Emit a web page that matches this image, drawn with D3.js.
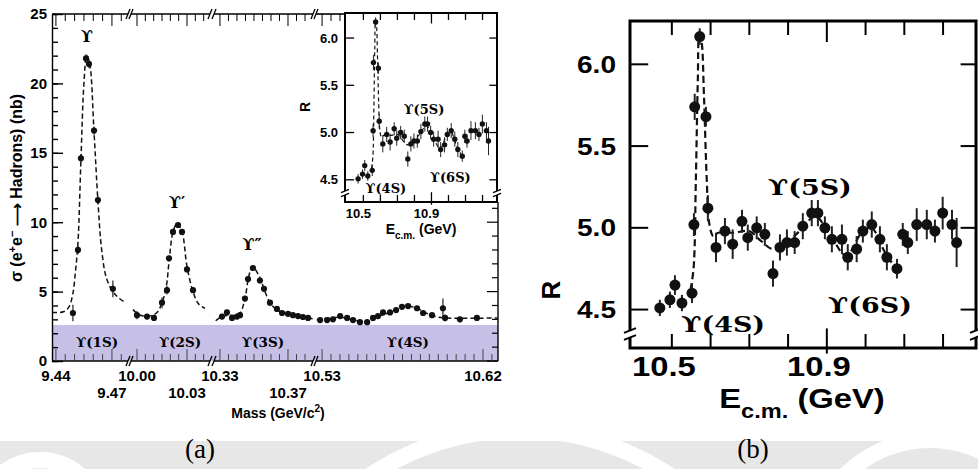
<!DOCTYPE html>
<html>
<head>
<meta charset="utf-8">
<script src="https://cdn.jsdelivr.net/npm/d3@7"></script>
<style>
  body { margin: 0; background: #fff; }
  svg { display: block; }
  text { font-family: "Liberation Sans", Arial, sans-serif; }
</style>
</head>
<body>
<svg id="chart" width="978" height="469"></svg>
<script>
// ---------- data ----------
// panel (a): broken mass axis, four windows (GeV)
const massSegments = [[9.4379, 9.4786], [9.9964, 10.0438], [10.3265, 10.3847], [10.5266, 10.6284]];
const massTopLabels = [9.44, 10.00, 10.33, 10.53, 10.62];
const massLowLabels = [9.47, 10.03, 10.37];
const sigmaTicks = [0, 5, 10, 15, 20, 25];

const upsMass = [
  9.4491, 9.4518, 9.4534, 9.4561, 9.4577, 9.4604, 9.4625, 9.4705,
  10.0000, 10.0060, 10.0102, 10.0150, 10.0180, 10.0192, 10.0216, 10.0246, 10.0270, 10.0300, 10.0336,
  10.3312, 10.3341, 10.3371, 10.3400, 10.3418, 10.3447, 10.3465, 10.3494, 10.3535, 10.3559, 10.3594,
  10.3635, 10.3665, 10.3700, 10.3729, 10.3759, 10.3788, 10.3818,
  10.5289, 10.5328, 10.5361, 10.5401, 10.5440, 10.5473, 10.5512, 10.5552, 10.5585, 10.5613, 10.5641,
  10.5680, 10.5714, 10.5747, 10.5781, 10.5831, 10.5865, 10.5915, 10.5976, 10.5988, 10.6071, 10.6166
];
const upsSigma = [
  3.46, 8.0, 14.6, 21.8, 21.4, 16.6, 11.6, 5.2,
  3.3, 3.2, 3.1, 4.2, 5.1, 7.4, 9.3, 9.8, 9.3, 6.6, 5.1,
  3.2, 3.5, 3.1, 3.2, 3.3, 4.5, 5.9, 6.7, 5.8, 5.2, 4.2,
  3.75, 3.46, 3.4, 3.3, 3.24, 3.17, 3.1,
  2.95, 2.95, 3.0, 3.24, 3.1, 2.95, 2.8, 2.8, 3.1, 3.24, 3.5,
  3.5, 3.67, 3.9, 3.96, 3.8, 3.46, 3.3, 3.8, 3.1, 3.0, 3.1
];
const upsErr = [
  0.6, 0.3, 0.3, 0.3, 0.3, 0.3, 0.3, 0.6,
  0.3, 0.2, 0.2, 0.4, 0.3, 0.2, 0.2, 0.2, 0.2, 0.2, 0.2,
  0.2, 0.2, 0.2, 0.2, 0.2, 0.2, 0.2, 0.2, 0.2, 0.2, 0.2,
  0.2, 0.2, 0.2, 0.2, 0.2, 0.2, 0.2,
  0.15, 0.15, 0.15, 0.15, 0.15, 0.15, 0.15, 0.15, 0.15, 0.15, 0.15,
  0.15, 0.15, 0.15, 0.15, 0.15, 0.15, 0.15, 0.7, 0.25, 0.2, 0.2
];
// dashed fit curve of panel (a)
const fitMass = [
  9.4379, 9.444, 9.447, 9.449, 9.4505, 9.4518, 9.4534, 9.455, 9.4565, 9.458, 9.4604, 9.4625, 9.4645, 9.467, 9.4705, 9.474, 9.4775,
  9.9975, 10.002, 10.008, 10.012, 10.015, 10.0175, 10.0195, 10.0216, 10.024, 10.027, 10.030, 10.0336, 10.037, 10.0408,
  10.3275, 10.331, 10.336, 10.341, 10.3447, 10.3465, 10.349, 10.3535, 10.3559, 10.3594, 10.3635, 10.370, 10.3818, 10.3845,
  10.527, 10.540, 10.548, 10.556, 10.5613, 10.568, 10.5747, 10.5781, 10.5831, 10.5875, 10.5935, 10.600, 10.628
];
const fitSigma = [
  3.5, 3.55, 3.9, 4.8, 6.5, 8.5, 14.5, 20.0, 22.0, 21.5, 16.5, 11.5, 8.0, 6.0, 5.0, 4.5, 4.2,
  3.7, 3.3, 3.25, 3.5, 4.2, 5.3, 7.5, 9.3, 9.9, 9.3, 6.8, 5.0, 4.1, 3.8,
  2.9, 3.2, 3.3, 3.3, 4.5, 5.8, 6.8, 6.0, 5.2, 4.2, 3.7, 3.35, 3.1, 3.05,
  2.95, 3.15, 2.95, 2.8, 3.2, 3.5, 3.85, 3.95, 3.8, 3.5, 3.2, 3.1, 3.1
];
const bandTop = 2.6;
const peakNames = ["ϒ", "ϒ′", "ϒ″"];
const peakMass = [9.4566, 10.0240, 10.3488];
const peakLabelSigma = [23.0, 11.0, 8.0];
const bandNames = ["ϒ(1S)", "ϒ(2S)", "ϒ(3S)", "ϒ(4S)"];
const bandMass = [9.4620, 10.0258, 10.3553, 10.5780];

// panel (b) and the inset: R versus E_cm (GeV)
const eDomain = [10.392, 11.285];
const rDomain = [4.265, 6.265];
const eTicks = [10.5, 10.6, 10.7, 10.8, 10.9, 11.0, 11.1, 11.2];
const eLabels = [10.5, 10.9];
const rTicks = [4.5, 5.0, 5.5, 6.0];
const eCm = [
  10.469, 10.495, 10.508, 10.526, 10.552, 10.557, 10.559, 10.572, 10.588, 10.593,
  10.614, 10.637, 10.657, 10.681, 10.696, 10.719, 10.740, 10.761, 10.779, 10.797,
  10.817, 10.838, 10.861, 10.877, 10.895, 10.913, 10.939, 10.954, 10.977, 10.993,
  11.016, 11.037, 11.055, 11.081, 11.096, 11.109, 11.132, 11.158, 11.179, 11.199,
  11.223, 11.235
];
const rVal = [
  4.51, 4.56, 4.65, 4.54, 4.60, 5.02, 5.74, 6.17, 5.68, 5.12,
  4.88, 4.98, 4.90, 5.04, 4.94, 5.00, 4.96, 4.72, 4.88, 4.91,
  4.91, 5.01, 5.09, 5.09, 5.00, 4.93, 4.93, 4.82, 4.87, 4.98,
  5.02, 4.93, 4.82, 4.75, 4.96, 4.91, 5.02, 5.02, 4.98, 5.09,
  5.02, 4.91
];
const rErr = [
  0.05, 0.05, 0.06, 0.05, 0.06, 0.07, 0.08, 0.05, 0.06, 0.08,
  0.09, 0.08, 0.09, 0.07, 0.08, 0.07, 0.07, 0.08, 0.08, 0.08,
  0.07, 0.08, 0.08, 0.08, 0.07, 0.08, 0.09, 0.08, 0.08, 0.07,
  0.08, 0.08, 0.08, 0.06, 0.07, 0.07, 0.10, 0.09, 0.07, 0.10,
  0.09, 0.15
];
const fitE = [10.548, 10.556, 10.562, 10.567, 10.571, 10.576, 10.583, 10.590, 10.597, 10.607, 10.620, 10.660,
  10.700, 10.730, 10.760, 10.790, 10.830, 10.870, 10.910, 10.950, 10.990, 11.015, 11.050, 11.085];
const fitR = [4.62, 4.75, 5.30, 5.90, 6.18, 6.15, 5.80, 5.30, 5.02, 4.95, 4.97, 4.97,
  4.98, 4.92, 4.87, 4.90, 4.98, 5.07, 4.95, 4.83, 4.97, 5.00, 4.85, 4.73];
const rLabels = ["ϒ(4S)", "ϒ(5S)", "ϒ(6S)"];
const rLabelE = [10.632, 10.856, 11.011];
const rLabelR = [4.36, 5.20, 4.48];

// ---------- drawing ----------
const svg = d3.select("#chart");
svg.append("rect").attr("width", 978).attr("height", 469).attr("fill", "#fff");

// faint watermark band at the bottom of the page
const wm = svg.append("g");
wm.append("rect").attr("x", 0).attr("y", 441).attr("width", 978).attr("height", 28).attr("fill", "#e7e7e7");
[[40, 520, 60], [520, 700, 270], [930, 560, 120]].forEach(c => {
  wm.append("circle").attr("cx", c[0]).attr("cy", c[1]).attr("r", c[2])
    .attr("fill", "none").attr("stroke", "#fff").attr("stroke-width", 16);
});

const serif = '"DejaVu Serif", "Liberation Serif", serif';

// ===== panel (a) =====
const aTop = 14, aBot = 361, aLeft = 52, aRight = 498;
const segRanges = [[52, 128], [131, 210], [214, 313], [316, 498]];
const xSegs = massSegments.map((d, i) => d3.scaleLinear().domain(d).range(segRanges[i]));
const segOf = m => massSegments.findIndex(d => m >= d[0] - 1e-9 && m <= d[1] + 1e-9);
const xMass = m => xSegs[segOf(m)](m);
const ySig = d3.scaleLinear().domain([0, 25]).range([aBot, aTop]);

const ga = svg.append("g");

// shaded band
ga.append("rect")
  .attr("x", aLeft).attr("y", ySig(bandTop))
  .attr("width", aRight - aLeft).attr("height", ySig(0) - ySig(bandTop))
  .attr("fill", "#c6bfe6");

// left axis: minor + major ticks
ga.append("g").attr("transform", `translate(${aLeft},0)`)
  .call(d3.axisLeft(ySig).tickValues(d3.range(0, 26)).tickSize(-6).tickSizeOuter(0).tickFormat(""))
  .call(g => g.selectAll("line,path").attr("stroke", "#000").attr("stroke-width", 1.4));
ga.append("g").attr("transform", `translate(${aLeft},0)`)
  .call(d3.axisLeft(ySig).tickValues(sigmaTicks).tickSize(-11).tickSizeOuter(0).tickPadding(5))
  .call(g => g.select(".domain").remove())
  .call(g => g.selectAll("line").attr("stroke", "#000").attr("stroke-width", 1.4))
  .call(g => g.selectAll("text").attr("font-size", 15).attr("font-weight", "bold").attr("fill", "#000"));

// right axis below the inset
const rightTicks = d3.range(0, 12);
ga.append("line").attr("x1", aRight).attr("x2", aRight).attr("y1", 202).attr("y2", aBot)
  .attr("stroke", "#000").attr("stroke-width", 1.4);
ga.selectAll(".rt").data(rightTicks).join("line")
  .attr("x1", aRight).attr("x2", d => aRight - (d % 5 === 0 ? 11 : 6))
  .attr("y1", d => ySig(d)).attr("y2", d => ySig(d))
  .attr("stroke", "#000").attr("stroke-width", 1.2);

// broken top / bottom axes
const labelled = massTopLabels.concat(massLowLabels);
massSegments.forEach((dom, i) => {
  const xs = xSegs[i];
  const [r0, r1] = segRanges[i];
  const span = dom[1] - dom[0];
  const ticks = xs.ticks(Math.round(span / 0.005));
  const isLong = t => labelled.some(l => Math.abs(l - t) < 1e-6);
  // bottom
  ga.append("line").attr("x1", r0).attr("x2", r1).attr("y1", aBot).attr("y2", aBot)
    .attr("stroke", "#000").attr("stroke-width", 1.6);
  ga.selectAll(null).data(ticks).join("line")
    .attr("x1", d => xs(d)).attr("x2", d => xs(d))
    .attr("y1", aBot).attr("y2", d => aBot - (isLong(d) ? 12 : 7))
    .attr("stroke", "#444").attr("stroke-width", 1);
  // top (hidden under the inset on the right)
  const topEnd = Math.min(r1, 345);
  ga.append("line").attr("x1", r0).attr("x2", topEnd).attr("y1", aTop).attr("y2", aTop)
    .attr("stroke", "#000").attr("stroke-width", 1.6);
  ga.selectAll(null).data(ticks.filter(t => xs(t) < 343)).join("line")
    .attr("x1", d => xs(d)).attr("x2", d => xs(d))
    .attr("y1", aTop).attr("y2", d => aTop + (isLong(d) ? 12 : 7))
    .attr("stroke", "#000").attr("stroke-width", 1);
  // break marks
  if (i < massSegments.length - 1) {
    const xa = r1, xb = segRanges[i + 1][0];
    [aTop, aBot].forEach(yy => {
      [xa, xb].forEach(xx => {
        ga.append("line").attr("x1", xx - 2).attr("y1", yy + 5).attr("x2", xx + 2).attr("y2", yy - 5)
          .attr("stroke", "#000").attr("stroke-width", 1.3);
      });
    });
  }
});

// x tick labels
ga.selectAll(".xl1").data(massTopLabels).join("text")
  .attr("x", d => xMass(d)).attr("y", 381).attr("text-anchor", "middle")
  .attr("font-size", 15).attr("font-weight", "bold").text(d => d.toFixed(2));
ga.selectAll(".xl2").data(massLowLabels).join("text")
  .attr("x", d => xMass(d)).attr("y", 398).attr("text-anchor", "middle")
  .attr("font-size", 15).attr("font-weight", "bold").text(d => d.toFixed(2));

// axis titles
const mt = ga.append("text").attr("x", 278).attr("y", 418).attr("text-anchor", "middle")
  .attr("font-size", 14).attr("font-weight", "bold");
mt.append("tspan").text("Mass (GeV/c");
mt.append("tspan").attr("font-size", 10).attr("dy", -6).text("2");
mt.append("tspan").attr("dy", 6).text(")");

const yt = ga.append("text").attr("transform", "translate(22,188) rotate(-90)")
  .attr("text-anchor", "middle").attr("font-size", 16).attr("font-weight", "bold");
yt.append("tspan").text("σ (e");
yt.append("tspan").attr("font-size", 11).attr("dy", -6).text("+");
yt.append("tspan").attr("dy", 6).text("e");
yt.append("tspan").attr("font-size", 11).attr("dy", -6).text("−");
yt.append("tspan").attr("dy", 6).text(" ⟶ Hadrons) (nb)");

// dashed fit per window
const fitPts = fitMass.map((m, i) => [m, fitSigma[i]]);
massSegments.forEach((dom, i) => {
  const pts = fitPts.filter(p => segOf(p[0]) === i);
  ga.append("path")
    .attr("d", d3.line().x(p => xMass(p[0])).y(p => ySig(p[1])).curve(d3.curveCatmullRom)(pts))
    .attr("fill", "none").attr("stroke", "#111").attr("stroke-width", 1.5)
    .attr("stroke-dasharray", "5,3");
});

// data points
const aPts = upsMass.map((m, i) => ({ m: m, s: upsSigma[i], e: upsErr[i] }));
ga.selectAll(".ae").data(aPts).join("line")
  .attr("x1", d => xMass(d.m)).attr("x2", d => xMass(d.m))
  .attr("y1", d => ySig(d.s - d.e)).attr("y2", d => ySig(d.s + d.e))
  .attr("stroke", "#222").attr("stroke-width", 1.2);
ga.selectAll(".ap").data(aPts).join("circle")
  .attr("cx", d => xMass(d.m)).attr("cy", d => ySig(d.s)).attr("r", 3.1).attr("fill", "#111");

// peak and band labels
ga.selectAll(".pk").data(peakNames).join("text")
  .attr("x", (d, i) => xMass(peakMass[i])).attr("y", (d, i) => ySig(peakLabelSigma[i]))
  .attr("text-anchor", "middle").style("font-family", serif).attr("font-weight", "bold")
  .attr("font-size", 16).text(d => d);
ga.selectAll(".bn").data(bandNames).join("text")
  .attr("x", (d, i) => xMass(bandMass[i])).attr("y", 347)
  .attr("text-anchor", "middle").style("font-family", serif).attr("font-weight", "bold")
  .attr("font-size", 13.5).text(d => d);

// ===== R panels (inset of (a) and panel (b)) =====
function drawRPanel(p) {
  const x = d3.scaleLinear().domain(eDomain).range([p.x0, p.x1]);
  const y = d3.scaleLinear().domain(rDomain).range([p.y1, p.y0]);
  const g = svg.append("g");
  const txt = (xx, yy) => g.append("text").attr("transform", `translate(${xx},${yy}) scale(${p.sx},1)`);

  g.append("rect").attr("x", p.x0).attr("y", p.y0).attr("width", p.x1 - p.x0).attr("height", p.y1 - p.y0)
    .attr("fill", "#fff").attr("stroke", "#000").attr("stroke-width", p.lw);

  // ticks
  const longE = t => Math.abs(t - 10.9) < 1e-6;
  g.selectAll(null).data(eTicks).join("line")
    .attr("x1", d => x(d)).attr("x2", d => x(d))
    .attr("y1", d => p.y1 + (longE(d) ? p.tl * 0.4 : 0)).attr("y2", d => p.y1 - (longE(d) ? p.tl * 1.4 : p.tl))
    .attr("stroke", "#000").attr("stroke-width", p.tw);
  g.selectAll(null).data(eTicks).join("line")
    .attr("x1", d => x(d)).attr("x2", d => x(d))
    .attr("y1", p.y0).attr("y2", d => p.y0 + (longE(d) ? p.tl * 1.5 : p.tl))
    .attr("stroke", "#000").attr("stroke-width", p.tw);
  g.selectAll(null).data(rTicks).join("line")
    .attr("x1", p.x0).attr("x2", p.x0 + p.tl * 1.3)
    .attr("y1", d => y(d)).attr("y2", d => y(d))
    .attr("stroke", "#000").attr("stroke-width", p.tw);
  g.selectAll(null).data(rTicks).join("line")
    .attr("x1", p.x1).attr("x2", p.x1 - p.tl * 1.1)
    .attr("y1", d => y(d)).attr("y2", d => y(d))
    .attr("stroke", "#000").attr("stroke-width", p.tw);

  // axis breaks near the bottom of both vertical axes
  [p.x0, p.x1].forEach(xx => {
    const yb = p.y1 - p.brk;
    g.append("rect").attr("x", xx - p.lw).attr("y", yb - p.bg / 2).attr("width", p.lw * 2).attr("height", p.bg)
      .attr("fill", "#fff");
    [-p.bg / 2, p.bg / 2].forEach(o => {
      g.append("line").attr("x1", xx - p.bw).attr("y1", yb + o + p.bw * 0.4)
        .attr("x2", xx + p.bw).attr("y2", yb + o - p.bw * 0.4)
        .attr("stroke", "#000").attr("stroke-width", p.tw);
    });
  });

  // tick labels
  rTicks.forEach(t => {
    txt(p.x0 - p.ylPad, y(t) + p.fsY * 0.36).attr("text-anchor", "end")
      .attr("font-size", p.fsY).attr("font-weight", "bold").text(t.toFixed(1));
  });
  eLabels.forEach(t => {
    txt(x(t) + p.xlDx, p.y1 + p.xlDy).attr("text-anchor", "middle")
      .attr("font-size", p.fsX).attr("font-weight", "bold").text(t.toFixed(1));
  });

  // titles
  const et = txt(p.etX, p.etY).attr("text-anchor", "middle").attr("font-size", p.fsT).attr("font-weight", "bold");
  et.append("tspan").text("E");
  et.append("tspan").attr("font-size", p.fsT * 0.72).attr("dy", p.fsT * 0.35).text("c.m.");
  et.append("tspan").attr("dy", -p.fsT * 0.35).text(" (GeV)");
  g.append("text").attr("transform", `translate(${p.rX},${p.rY}) rotate(-90)`)
    .attr("text-anchor", "middle").attr("font-size", p.fsR).attr("font-weight", "bold").text("R");

  // dashed fit
  g.append("path")
    .attr("d", d3.line().x((d, i) => x(fitE[i])).y(d => y(d)).curve(d3.curveCatmullRom)(fitR))
    .attr("fill", "none").attr("stroke", "#111").attr("stroke-width", p.fw)
    .attr("stroke-dasharray", p.dash);

  // points with error bars
  const pts = eCm.map((e, i) => ({ e: e, r: rVal[i], s: rErr[i] }));
  g.selectAll(null).data(pts).join("line")
    .attr("x1", d => x(d.e)).attr("x2", d => x(d.e))
    .attr("y1", d => y(d.r - d.s)).attr("y2", d => y(d.r + d.s))
    .attr("stroke", "#222").attr("stroke-width", p.ew);
  g.selectAll(null).data(pts).join("circle")
    .attr("cx", d => x(d.e)).attr("cy", d => y(d.r)).attr("r", p.r).attr("fill", "#111");

  // resonance labels
  rLabels.forEach((s, i) => {
    txt(x(rLabelE[i]), y(rLabelR[i])).attr("text-anchor", "middle")
      .style("font-family", serif).attr("font-weight", "bold").attr("font-size", p.fsU).text(s);
  });
}

// inset of (a)
drawRPanel({
  x0: 345, x1: 497, y0: 13, y1: 202, sx: 1, lw: 2, tw: 1.3, tl: 7, brk: 9, bg: 4, bw: 4,
  fsY: 13, ylPad: 7, fsX: 13, xlDx: -5, xlDy: 16, fsT: 14, etX: 421, etY: 234,
  fsR: 14, rX: 310, rY: 107, fsU: 13, fw: 1.2, dash: "4,3", ew: 1, r: 2.7
});

// panel (b)
drawRPanel({
  x0: 630, x1: 976, y0: 21, y1: 348, sx: 1.17, lw: 3, tw: 2, tl: 14, brk: 14, bg: 7, bw: 6,
  fsY: 24, ylPad: 14, fsX: 28, xlDx: -8, xlDy: 28, fsT: 28, etX: 802, etY: 408,
  fsR: 26, rX: 560, rY: 290, fsU: 23, fw: 2.2, dash: "7,4", ew: 2, r: 5.5
});

// panel captions
svg.append("text").attr("x", 200).attr("y", 458).attr("text-anchor", "middle")
  .style("font-family", '"Liberation Serif", serif').attr("font-size", 27).text("(a)");
svg.append("text").attr("x", 753).attr("y", 458).attr("text-anchor", "middle")
  .style("font-family", '"Liberation Serif", serif').attr("font-size", 27).text("(b)");
</script>
</body>
</html>
